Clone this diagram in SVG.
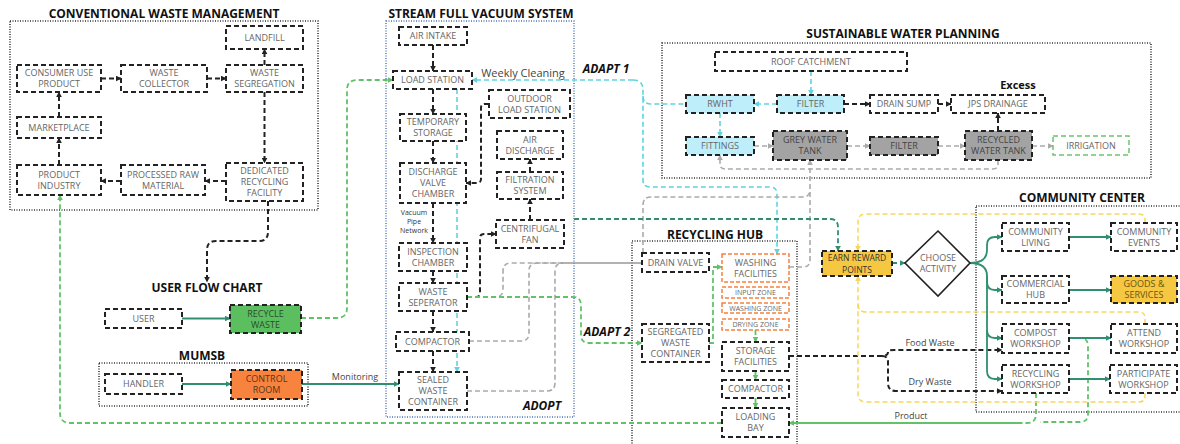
<svg xmlns="http://www.w3.org/2000/svg" width="1180" height="444" viewBox="0 0 1180 444">
<style>
.bx{fill:#fff;stroke:#222;stroke-width:2;stroke-dasharray:5 3}
.cy1{fill:#bdeefa;stroke:#222;stroke-width:2;stroke-dasharray:5 3}
.gy{fill:#a3a3a3;stroke:#222;stroke-width:2;stroke-dasharray:5 3}
.yl{fill:#f6c842;stroke:#222;stroke-width:2;stroke-dasharray:5 3}
.or{fill:#fff;stroke:#f5813f;stroke-width:1.5;stroke-dasharray:4 2}
.t{font-family:"Open Sans","Liberation Sans",sans-serif;font-size:9px;fill:#666;text-anchor:middle}
.td{font-family:"Open Sans","Liberation Sans",sans-serif;font-size:9px;fill:#333;text-anchor:middle}
.ts{font-family:"Open Sans","Liberation Sans",sans-serif;font-size:7px;fill:#666;text-anchor:middle}
.h{font-family:"Open Sans","Liberation Sans",sans-serif;font-weight:bold;font-size:12px;fill:#111;text-anchor:middle}
.ad{font-family:"Open Sans","Liberation Sans",sans-serif;font-weight:bold;font-style:italic;font-size:12px;fill:#111;text-anchor:middle}
.lb{font-family:"Open Sans","Liberation Sans",sans-serif;font-size:9px;fill:#444;text-anchor:middle}
.vp{font-family:"Open Sans","Liberation Sans",sans-serif;font-size:7px;fill:#333;text-anchor:middle}
.cont{fill:none;stroke:#333;stroke-width:1.6;stroke-dasharray:1 1.5}
.contb{fill:none;stroke:#4a72b5;stroke-width:1.4;stroke-dasharray:1 1.5}
.cb{fill:none;stroke:#222;stroke-width:2;stroke-dasharray:5 3}
.cg{fill:none;stroke:#aaa;stroke-width:1.6;stroke-dasharray:5 3}
.cgs{fill:none;stroke:#999;stroke-width:1.6}
.cc{fill:none;stroke:#5ed4e0;stroke-width:1.6;stroke-dasharray:5 3}
.cgr{fill:none;stroke:#62c26a;stroke-width:1.8;stroke-dasharray:5 3}
.cgrs{fill:none;stroke:#62c26a;stroke-width:2}
.ct{fill:none;stroke:#2f8f70;stroke-width:1.8}
.ctd{fill:none;stroke:#2f8f70;stroke-width:1.8;stroke-dasharray:5 3}
.cyl{fill:none;stroke:#f5d75a;stroke-width:1.5;stroke-dasharray:5 3}
</style>
<defs>
<marker id="ab" viewBox="0 0 10 10" refX="9" refY="5" markerWidth="6" markerHeight="6" markerUnits="userSpaceOnUse" orient="auto"><path d="M0,0 L10,5 L0,10 z" fill="#222"/></marker>
<marker id="ag" viewBox="0 0 10 10" refX="9" refY="5" markerWidth="6" markerHeight="6" markerUnits="userSpaceOnUse" orient="auto"><path d="M0,0 L10,5 L0,10 z" fill="#aaa"/></marker>
<marker id="ac" viewBox="0 0 10 10" refX="9" refY="5" markerWidth="6" markerHeight="6" markerUnits="userSpaceOnUse" orient="auto"><path d="M0,0 L10,5 L0,10 z" fill="#5ed4e0"/></marker>
<marker id="agr" viewBox="0 0 10 10" refX="9" refY="5" markerWidth="6" markerHeight="6" markerUnits="userSpaceOnUse" orient="auto"><path d="M0,0 L10,5 L0,10 z" fill="#62c26a"/></marker>
<marker id="at" viewBox="0 0 10 10" refX="9" refY="5" markerWidth="6" markerHeight="6" markerUnits="userSpaceOnUse" orient="auto"><path d="M0,0 L10,5 L0,10 z" fill="#2f8f70"/></marker>
<marker id="ay" viewBox="0 0 10 10" refX="9" refY="5" markerWidth="6" markerHeight="6" markerUnits="userSpaceOnUse" orient="auto"><path d="M0,0 L10,5 L0,10 z" fill="#f5d75a"/></marker>
</defs>
<rect width="1180" height="444" fill="#fff"/>

<!-- containers and titles -->
<g id="containers">
<text class="h" x="164" y="18">CONVENTIONAL WASTE MANAGEMENT</text>
<rect class="cont" x="10" y="21" width="308" height="189"/>
<text class="h" x="481" y="18">STREAM FULL VACUUM SYSTEM</text>
<rect class="contb" x="386" y="21" width="188" height="396"/>
<text class="h" x="903" y="38">SUSTAINABLE WATER PLANNING</text>
<rect class="cont" x="662" y="43" width="489" height="135"/>
<text class="h" x="207" y="292">USER FLOW CHART</text>
<text class="h" x="202" y="360">MUMSB</text>
<rect class="cont" x="99" y="363" width="209" height="43"/>
<text class="h" x="715" y="239">RECYCLING HUB</text>
<rect class="cont" x="632" y="241" width="165" height="215"/>
<text class="h" x="1082" y="202">COMMUNITY CENTER</text>
<rect class="cont" x="976" y="206" width="215" height="206"/>
<text class="ad" x="542" y="410">ADOPT</text>
<text class="ad" x="606" y="73">ADAPT 1</text>
<text class="ad" x="607" y="336">ADAPT 2</text>
</g>

<!-- connectors -->
<g id="connectors">
<path class="cb" d="M101,78.5 H121" marker-end="url(#ab)"/>
<path class="cb" d="M207,78.5 H226" marker-end="url(#ab)"/>
<path class="cb" d="M264.5,65 V49" marker-end="url(#ab)"/>
<path class="cb" d="M264.5,92 V163" marker-end="url(#ab)"/>
<path class="cb" d="M226,181 H205" marker-end="url(#ab)"/>
<path class="cb" d="M121,181 H101" marker-end="url(#ab)"/>
<path class="cb" d="M59,165 V138" marker-end="url(#ab)"/>
<path class="cb" d="M59,117 V92" marker-end="url(#ab)"/>
<path class="cb" d="M268,201 V232 Q268,241 259,241 H216 Q207,241 207,250 V282" marker-end="url(#ab)"/>
<path class="ct" d="M182,318.5 H230" marker-end="url(#at)"/>
<path class="ct" d="M182,384 H231" marker-end="url(#at)"/>
<path class="ct" d="M302,384 H399" marker-end="url(#at)"/>
<text class="lb" x="355" y="380">Monitoring</text>
<path class="cgr" d="M301,318 H337 Q347,318 347,308 V90 Q347,80 357,80 H393" marker-end="url(#agr)"/>
<path class="cgr" d="M722,423 H70 Q60,423 60,413 V195" marker-end="url(#agr)"/>
<path class="cb" d="M433,45 V71" marker-end="url(#ab)"/>
<path class="cb" d="M433,89 V114" marker-end="url(#ab)"/>
<path class="cb" d="M433,141 V163" marker-end="url(#ab)"/>
<path class="cb" d="M433,203 V243" marker-end="url(#ab)"/>
<path class="cb" d="M433,271 V283" marker-end="url(#ab)"/>
<path class="cb" d="M433,311 V332" marker-end="url(#ab)"/>
<path class="cb" d="M433,351 V372" marker-end="url(#ab)"/>
<path class="cb" d="M489,104 H485 Q481,104 481,108 V179 Q481,183 477,183 H466" marker-end="url(#ab)"/>
<path class="cb" d="M530,172 V159" marker-end="url(#ab)"/>
<path class="cb" d="M530,220 V199" marker-end="url(#ab)"/>
<path class="cb" d="M467,297 H476 Q480,297 480,293 V238 Q480,234 484,234 H496" marker-end="url(#ab)"/>
<text class="vp" x="414" y="215">Vacuum</text>
<text class="vp" x="414" y="224">Pipe</text>
<text class="vp" x="414" y="233">Network</text>
<text class="lb" x="523" y="77" style="font-size:11px">Weekly Cleaning</text>
<path class="cc" d="M457,89 V372" marker-end="url(#ac)"/>
<path class="cc" d="M633,80 H472" marker-end="url(#ac)"/>
<path class="cc" d="M633,80 Q643,80 643,90 V180 Q643,187 650,187 H770 Q777,187 777,194 V254" marker-end="url(#ac)"/>
<path class="cc" d="M643,96 Q643,104 651,104 H686"/>
<path class="cc" d="M811,71 V95" marker-end="url(#ac)"/>
<path class="cc" d="M777,104 H754" marker-end="url(#ac)"/>
<path class="cc" d="M720,113 V137" marker-end="url(#ac)"/>
<path class="cb" d="M844,104 H870" marker-end="url(#ab)"/>
<path class="cb" d="M938,104 H951" marker-end="url(#ab)"/>
<path class="cb" d="M998,131 V113" marker-end="url(#ab)"/>
<path class="cg" d="M754,146 H773" marker-end="url(#ag)"/>
<path class="cg" d="M847,146 H870" marker-end="url(#ag)"/>
<path class="cg" d="M938,146 H965" marker-end="url(#ag)"/>
<path class="cg" d="M1032,146 H1053" marker-end="url(#ag)"/>
<path class="cg" d="M998,160 V164 Q998,169 993,169 H725 Q720,169 720,164 V155" marker-end="url(#ag)"/>
<path class="cg" d="M789,267 H803 Q810,267 810,260 V160" marker-end="url(#ag)"/>
<path class="cg" d="M643,253 V205 Q643,197 651,197 H802 Q810,197 810,190"/>
<path class="cg" d="M467,297 H495 Q503,297 503,289 V271 Q503,263 511,263 H560"/>
<path class="cg" d="M469,341 H521 Q529,341 529,333 V271 Q529,263 537,263 H560"/>
<path class="cg" d="M467,391 H547 Q555,391 555,383 V271 Q555,263 563,263"/>
<path class="cgs" d="M560,263 H642"/>
<path class="cgr" d="M467,297 H573 Q581,297 581,305 V335 Q581,343 589,343 H642" marker-end="url(#agr)"/>
<path class="cgr" d="M709,343 H713 V267 H722" marker-end="url(#agr)"/>
<path class="cgr" d="M755.5,330 V342" marker-end="url(#agr)"/>
<path class="cgr" d="M755.5,371 V380" marker-end="url(#agr)"/>
<path class="cgr" d="M755.5,398 V408" marker-end="url(#agr)"/>
<path class="ctd" d="M574,219 H830 Q838,219 838,227 V251" marker-end="url(#at)"/>
<path class="ctd" d="M892,263 H905" marker-end="url(#at)"/>
<path class="cgr" d="M1036,393 V414 Q1036,423 1027,423 H1018"/>
<path class="cgrs" d="M1020,423 H789" marker-end="url(#agr)"/>
<path class="cgr" d="M1069,338 H1080 Q1088,338 1088,346 V414 Q1088,422 1080,422 H1040"/>
<text class="lb" x="911" y="419">Product</text>
<path class="cb" d="M789,356 H882 Q888,356 888,352 Q888,350 894,350 H1002" marker-end="url(#ab)"/>
<path class="cb" d="M882,356 Q888,356 888,362 V383 Q888,391 896,391 H1002" marker-end="url(#ab)"/>
<text class="lb" x="930" y="346">Food Waste</text>
<text class="lb" x="930" y="385">Dry Waste</text>
<path class="cyl" d="M1145,223 V220 Q1145,214 1139,214 H866 Q858,214 858,222 V251" marker-end="url(#ay)"/>
<path class="cyl" d="M1145,393 V396 Q1145,402 1139,402 H866 Q858,402 858,394 V276" marker-end="url(#ay)"/>
<path class="cyl" d="M1145,324 V318 Q1145,312 1139,312 H866 Q858,312 858,304"/>
<path class="ct" d="M970,263 Q987,263 987,250 V245 Q987,237 995,237 H1002" marker-end="url(#at)"/>
<path class="ct" d="M970,263 Q987,263 987,276 V282 Q987,290 995,290 H1002" marker-end="url(#at)"/>
<path class="ct" d="M987,276 V330 Q987,338 995,338 H1002" marker-end="url(#at)"/>
<path class="ct" d="M987,330 V371 Q987,379 995,379 H1002" marker-end="url(#at)"/>
<path class="ct" d="M1069,237 H1111" marker-end="url(#at)"/>
<path class="ct" d="M1069,290 H1111" marker-end="url(#at)"/>
<path class="ct" d="M1069,338 H1111" marker-end="url(#at)"/>
<path class="ct" d="M1069,379 H1110" marker-end="url(#at)"/>
</g>

<g id="landfill"><rect class="bx" x="226" y="26" width="77" height="23"/><text class="t" x="264.5" y="40.5">LANDFILL</text></g>
<g id="consumer-use-product"><rect class="bx" x="17" y="65" width="84" height="27"/><text class="t" x="59" y="76">CONSUMER USE</text><text class="t" x="59" y="87">PRODUCT</text></g>
<g id="waste-collector"><rect class="bx" x="121" y="65" width="86" height="27"/><text class="t" x="164" y="76">WASTE</text><text class="t" x="164" y="87">COLLECTOR</text></g>
<g id="waste-segregation"><rect class="bx" x="226" y="65" width="77" height="27"/><text class="t" x="264.5" y="76">WASTE</text><text class="t" x="264.5" y="87">SEGREGATION</text></g>
<g id="marketplace"><rect class="bx" x="17" y="117" width="84" height="21"/><text class="t" x="59" y="130.5">MARKETPLACE</text></g>
<g id="product-industry"><rect class="bx" x="17" y="165" width="84" height="30"/><text class="t" x="59" y="177.5">PRODUCT</text><text class="t" x="59" y="188.5">INDUSTRY</text></g>
<g id="processed-raw-material"><rect class="bx" x="121" y="165" width="84" height="30"/><text class="t" x="163" y="177.5">PROCESSED RAW</text><text class="t" x="163" y="188.5">MATERIAL</text></g>
<g id="dedicated-recycling-facility"><rect class="bx" x="226" y="163" width="77" height="38"/><text class="t" x="264.5" y="174">DEDICATED</text><text class="t" x="264.5" y="185">RECYCLING</text><text class="t" x="264.5" y="196">FACILITY</text></g>

<g id="user"><rect class="bx" x="105" y="309" width="77" height="19"/><text class="t" x="143.5" y="321.5">USER</text></g>
<g id="recycle-waste"><rect class="bx" x="230" y="305" width="71" height="28" style="fill:#5cbf5f"/><text class="td" x="265.5" y="316.5" style="fill:#2d4a30">RECYCLE</text><text class="td" x="265.5" y="327.5" style="fill:#2d4a30">WASTE</text></g>
<g id="handler"><rect class="bx" x="105" y="374" width="77" height="20"/><text class="t" x="143.5" y="387">HANDLER</text></g>
<g id="control-room"><rect class="bx" x="231" y="370" width="71" height="29" style="fill:#f7833e"/><text class="td" x="266.5" y="381.5" style="fill:#5a3418">CONTROL</text><text class="td" x="266.5" y="392.5" style="fill:#5a3418">ROOM</text></g>

<g id="air-intake"><rect class="bx" x="399" y="27" width="68" height="18"/><text class="t" x="433" y="39">AIR INTAKE</text></g>
<g id="load-station"><rect class="bx" x="393" y="71" width="79" height="18"/><text class="t" x="432.5" y="83">LOAD STATION</text></g>
<g id="outdoor-load-station"><rect class="bx" x="489" y="90" width="81" height="28"/><text class="t" x="529.5" y="101.5">OUTDOOR</text><text class="t" x="529.5" y="112.5">LOAD STATION</text></g>
<g id="temporary-storage"><rect class="bx" x="400" y="114" width="66" height="27"/><text class="t" x="433" y="125">TEMPORARY</text><text class="t" x="433" y="136">STORAGE</text></g>
<g id="air-discharge"><rect class="bx" x="497" y="131" width="66" height="28"/><text class="t" x="530" y="142.5">AIR</text><text class="t" x="530" y="153.5">DISCHARGE</text></g>
<g id="discharge-valve-chamber"><rect class="bx" x="400" y="163" width="66" height="40"/><text class="t" x="433" y="175">DISCHARGE</text><text class="t" x="433" y="186">VALVE</text><text class="t" x="433" y="197">CHAMBER</text></g>
<g id="filtration-system"><rect class="bx" x="497" y="172" width="66" height="27"/><text class="t" x="530" y="183">FILTRATION</text><text class="t" x="530" y="194">SYSTEM</text></g>
<g id="centrifugal-fan"><rect class="bx" x="496" y="220" width="68" height="28"/><text class="t" x="530" y="231.5">CENTRIFUGAL</text><text class="t" x="530" y="242.5">FAN</text></g>
<g id="inspection-chamber"><rect class="bx" x="399" y="243" width="68" height="28"/><text class="t" x="433" y="254.5">INSPECTION</text><text class="t" x="433" y="265.5">CHAMBER</text></g>
<g id="waste-seperator"><rect class="bx" x="399" y="283" width="68" height="28"/><text class="t" x="433" y="294.5">WASTE</text><text class="t" x="433" y="305.5">SEPERATOR</text></g>
<g id="compactor-sfvs"><rect class="bx" x="396" y="332" width="73" height="19"/><text class="t" x="432.5" y="344.5">COMPACTOR</text></g>
<g id="sealed-waste-container"><rect class="bx" x="399" y="372" width="68" height="38"/><text class="t" x="433" y="383">SEALED</text><text class="t" x="433" y="394">WASTE</text><text class="t" x="433" y="405">CONTAINER</text></g>

<g id="roof-catchment"><rect class="bx" x="715" y="52" width="192" height="19"/><text class="t" x="811" y="64.5">ROOF CATCHMENT</text></g>
<g id="rwht"><rect class="cy1" x="686" y="95" width="68" height="18"/><text class="t" x="720" y="107">RWHT</text></g>
<g id="filter-1"><rect class="cy1" x="777" y="95" width="67" height="18"/><text class="t" x="810.5" y="107">FILTER</text></g>
<g id="drain-sump"><rect class="bx" x="870" y="95" width="68" height="18"/><text class="t" x="904" y="107">DRAIN SUMP</text></g>
<g id="jps-drainage"><rect class="bx" x="951" y="95" width="94" height="18"/><text class="t" x="998" y="107">JPS DRAINAGE</text></g>
<text class="h" x="1018" y="89" style="font-size:11px">Excess</text>
<g id="fittings"><rect class="cy1" x="686" y="137" width="68" height="18"/><text class="t" x="720" y="149">FITTINGS</text></g>
<g id="grey-water-tank"><rect class="gy" x="773" y="131" width="74" height="29"/><text class="t" x="810" y="142.5" style="fill:#444">GREY WATER</text><text class="t" x="810" y="153.5" style="fill:#444">TANK</text></g>
<g id="filter-2"><rect class="gy" x="870" y="137" width="68" height="18"/><text class="t" x="904" y="149" style="fill:#444">FILTER</text></g>
<g id="recycled-water-tank"><rect class="gy" x="965" y="131" width="67" height="29"/><text class="t" x="998.5" y="142.5" style="fill:#444">RECYCLED</text><text class="t" x="998.5" y="153.5" style="fill:#444">WATER TANK</text></g>
<g id="irrigation"><rect class="bx" x="1053" y="136" width="76" height="19" style="stroke:#6cc46c;stroke-width:1.5"/><text class="t" x="1091" y="148.5">IRRIGATION</text></g>

<g id="drain-valve"><rect class="bx" x="642" y="253" width="67" height="19"/><text class="t" x="675.5" y="265.5">DRAIN VALVE</text></g>
<g id="washing-facilities"><rect class="or" x="722" y="254" width="67" height="28"/><text class="t" x="755.5" y="265.5">WASHING</text><text class="t" x="755.5" y="276.5">FACILITIES</text></g>
<g id="input-zone"><rect class="or" x="722" y="287" width="67" height="11"/><text class="ts" x="755.5" y="295">INPUT ZONE</text></g>
<g id="washing-zone"><rect class="or" x="722" y="303" width="67" height="10"/><text class="ts" x="755.5" y="310.5">WASHING ZONE</text></g>
<g id="drying-zone"><rect class="or" x="722" y="319" width="67" height="11"/><text class="ts" x="755.5" y="327">DRYING ZONE</text></g>
<g id="segregated-waste-container"><rect class="bx" x="642" y="324" width="67" height="38"/><text class="t" x="675.5" y="335">SEGREGATED</text><text class="t" x="675.5" y="346">WASTE</text><text class="t" x="675.5" y="357">CONTAINER</text></g>
<g id="storage-facilities"><rect class="bx" x="722" y="342" width="67" height="29"/><text class="t" x="755.5" y="353.5">STORAGE</text><text class="t" x="755.5" y="364.5">FACILITIES</text></g>
<g id="compactor-hub"><rect class="bx" x="722" y="380" width="67" height="18"/><text class="t" x="755.5" y="392">COMPACTOR</text></g>
<g id="loading-bay"><rect class="bx" x="722" y="408" width="67" height="29"/><text class="t" x="755.5" y="419.5">LOADING</text><text class="t" x="755.5" y="430.5">BAY</text></g>

<g id="earn-reward-points"><rect class="yl" x="822" y="251" width="70" height="25"/><text class="td" x="857" y="261" style="font-size:8.5px">EARN REWARD</text><text class="td" x="857" y="272.5" style="font-size:8.5px">POINTS</text></g>
<g id="choose-activity"><polygon points="938,231 970,263 938,296 905,263" fill="#fff" stroke="#222" stroke-width="1.6"/><text class="t" x="938" y="261">CHOOSE</text><text class="t" x="938" y="272">ACTIVITY</text></g>

<g id="community-living"><rect class="bx" x="1002" y="223" width="67" height="28"/><text class="t" x="1035.5" y="234.5">COMMUNITY</text><text class="t" x="1035.5" y="245.5">LIVING</text></g>
<g id="community-events"><rect class="bx" x="1111" y="223" width="66" height="28"/><text class="t" x="1144" y="234.5">COMMUNITY</text><text class="t" x="1144" y="245.5">EVENTS</text></g>
<g id="commercial-hub"><rect class="bx" x="1002" y="276" width="67" height="27"/><text class="t" x="1035.5" y="287">COMMERCIAL</text><text class="t" x="1035.5" y="298">HUB</text></g>
<g id="goods-services"><rect class="yl" x="1111" y="276" width="66" height="27"/><text class="td" x="1144" y="287" style="fill:#6a5410">GOODS &amp;</text><text class="td" x="1144" y="298" style="fill:#6a5410">SERVICES</text></g>
<g id="compost-workshop"><rect class="bx" x="1002" y="324" width="67" height="29"/><text class="t" x="1035.5" y="335.5">COMPOST</text><text class="t" x="1035.5" y="346.5">WORKSHOP</text></g>
<g id="attend-workshop"><rect class="bx" x="1111" y="324" width="66" height="29"/><text class="t" x="1144" y="335.5">ATTEND</text><text class="t" x="1144" y="346.5">WORKSHOP</text></g>
<g id="recycling-workshop"><rect class="bx" x="1002" y="365" width="67" height="28"/><text class="t" x="1035.5" y="376.5">RECYCLING</text><text class="t" x="1035.5" y="387.5">WORKSHOP</text></g>
<g id="participate-workshop"><rect class="bx" x="1110" y="365" width="67" height="28"/><text class="t" x="1143.5" y="376.5">PARTICIPATE</text><text class="t" x="1143.5" y="387.5">WORKSHOP</text></g>
</svg>
